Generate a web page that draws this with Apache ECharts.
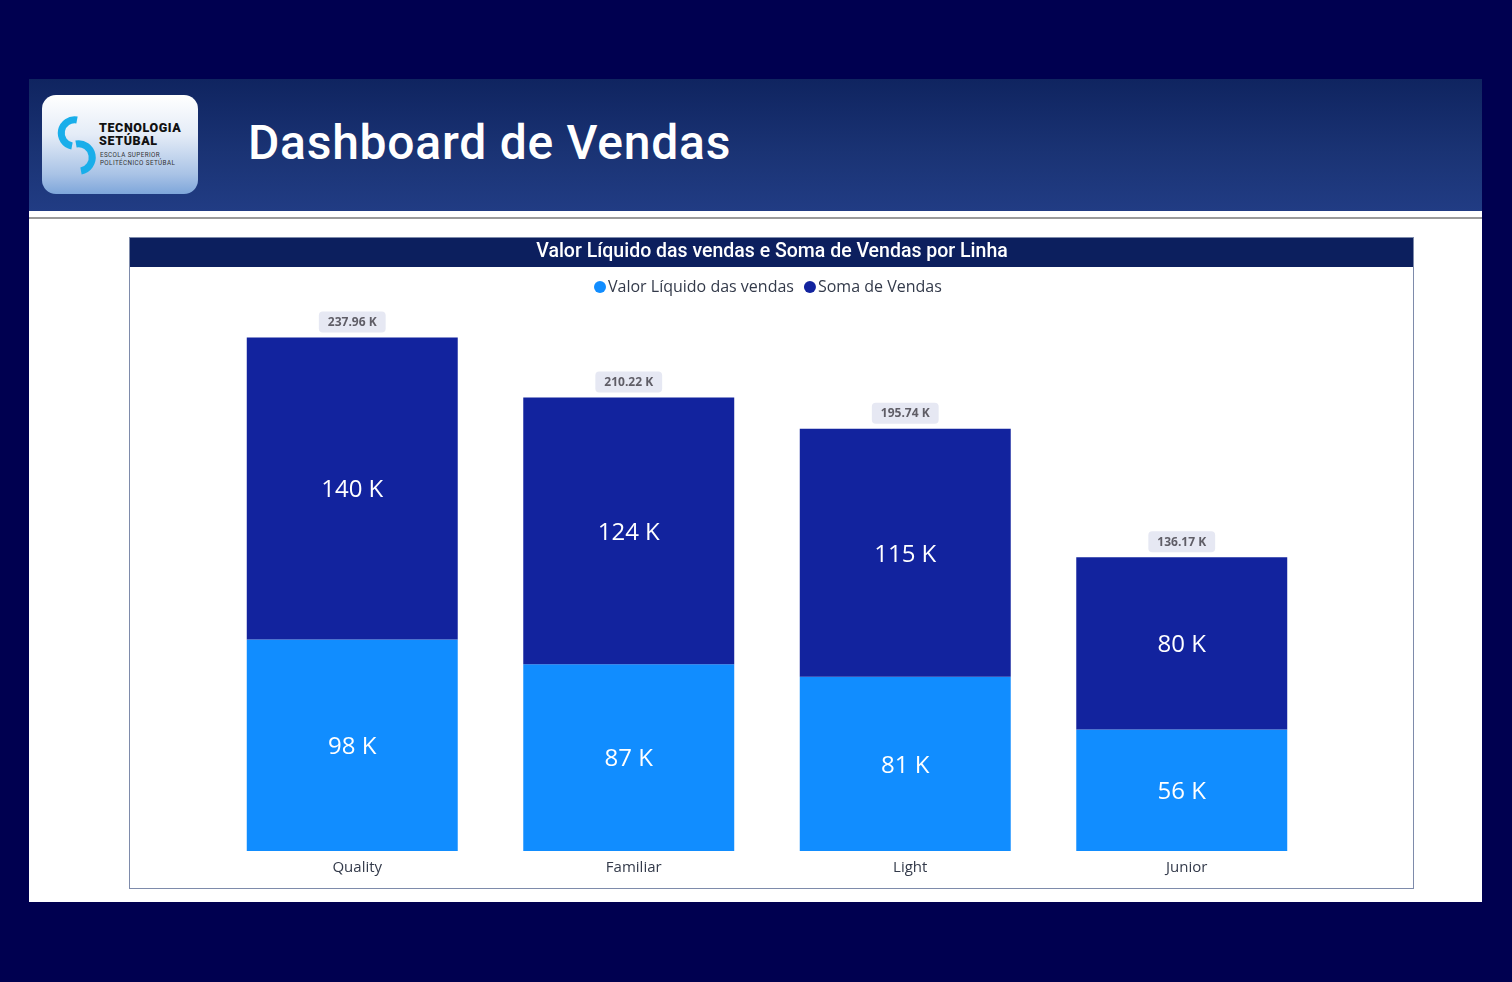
<!DOCTYPE html>
<html>
<head>
<meta charset="utf-8">
<script src="https://cdn.jsdelivr.net/npm/echarts@6/dist/echarts.min.js"></script>
<style>
  html, body { margin:0; padding:0; width:1512px; height:982px; background:#000050; overflow:hidden; }
  #panel { position:absolute; left:29px; top:79px; width:1453px; height:823px; background:#ffffff; }
  #header { position:absolute; left:29px; top:79px; width:1453px; height:132px;
            background:linear-gradient(180deg,#0f2460 0%,#1a3374 55%,#213c84 100%); }
  #hline { position:absolute; left:29px; top:217px; width:1453px; height:2px; background:#9a9a9a; }
  #htitle { position:absolute; left:248px; top:119px; font-family:Roboto, sans-serif; font-weight:500;
            font-size:48px; line-height:48px; color:#ffffff; letter-spacing:0.75px; white-space:nowrap; }
  #logo { position:absolute; left:42px; top:95px; width:156px; height:99px; border-radius:14px;
          background:linear-gradient(180deg,#ffffff 0%,#e4ecf7 40%,#a9c3e6 80%,#7ea6da 100%); }
  #logo svg { position:absolute; left:0; top:0; }
  .lt1 { position:absolute; left:57px; font-family:Roboto, sans-serif; font-weight:900; font-size:12.5px;
         color:#111; letter-spacing:0.6px; line-height:13px; }
  .lt2 { position:absolute; left:58px; font-family:Roboto, sans-serif; font-size:6.3px; color:#333;
         letter-spacing:0.4px; line-height:7px; }
  #box { position:absolute; left:129px; top:237px; width:1283px; height:650px; border:1px solid #7e8bab; }
  #tbar { position:absolute; left:0; top:0; width:100%; height:29px; background:#0c1f5e; }
  #chart { position:absolute; left:0; top:0; width:1512px; height:982px; }
</style>
</head>
<body>
<div id="panel"></div>
<div id="header"></div>
<div id="hline"></div>
<div id="logo">
  <svg width="156" height="99" viewBox="0 0 156 99">
    <path d="M35 25 A13 13 0 0 0 30 51" fill="none" stroke="#19aeea" stroke-width="7"/>
    <path d="M34 49 A13.5 13.5 0 0 1 39 76" fill="none" stroke="#19aeea" stroke-width="7"/>
  </svg>
  <div class="lt1" style="top:26px;">TECNOLOGIA</div>
  <div class="lt1" style="top:39px;">SETÚBAL</div>
  <div class="lt2" style="top:57px;">ESCOLA SUPERIOR</div>
  <div class="lt2" style="top:65px;">POLITÉCNICO SETÚBAL</div>
</div>
<div id="htitle">Dashboard de Vendas</div>
<div id="box"><div id="tbar"></div></div>
<div id="chart"></div>
<script>
const categories = ['Quality', 'Familiar', 'Light', 'Junior'];
const valorLiquido = [98.0, 86.6, 80.7, 56.3];
const somaVendas = [139.96, 123.62, 115.04, 79.87];
const totals = categories.map((c, i) => valorLiquido[i] + somaVendas[i]);
const seriesNames = ['Valor Líquido das vendas', 'Soma de Vendas'];
const chartTitle = 'Valor Líquido das vendas e Soma de Vendas por Linha';

const chart = echarts.init(document.getElementById('chart'), null, { renderer: 'canvas' });
const insideLabel = {
  show: true, position: 'inside', color: '#ffffff', fontSize: 24, offset: [0, 2],
  fontFamily: '"Open Sans", sans-serif',
  formatter: p => Math.round(p.value) + ' K'
};
chart.setOption({
  backgroundColor: 'transparent',
  animation: false,
  title: {
    text: chartTitle, left: 772, top: 252, padding: 0,
    textAlign: 'center', textVerticalAlign: 'middle',
    textStyle: { color: '#ffffff', fontSize: 19.5, fontWeight: 500, fontFamily: 'Roboto, sans-serif' }
  },
  legend: {
    data: seriesNames, left: 594, top: 279, padding: 0, itemGap: 10,
    icon: 'circle', itemWidth: 12, itemHeight: 12,
    textStyle: { color: '#333a4a', fontSize: 16, fontFamily: '"Open Sans", sans-serif', padding: [0, 0, 0, -3] }
  },
  grid: { left: 214, right: 192, top: 290, bottom: 131 },
  xAxis: {
    type: 'category', data: categories,
    axisLine: { show: false }, axisTick: { show: false },
    axisLabel: { color: '#333a4a', fontSize: 15, margin: 9, fontFamily: '"Open Sans", sans-serif', padding: [0, 0, 0, 10] }
  },
  yAxis: { type: 'value', min: 0, max: 260, show: false, splitLine: { show: false } },
  series: [
    { name: seriesNames[0], type: 'bar', stack: 'total', data: valorLiquido,
      barCategoryGap: '23.7%', itemStyle: { color: '#118dff' }, label: insideLabel },
    { name: seriesNames[1], type: 'bar', stack: 'total', data: somaVendas,
      itemStyle: { color: '#12239e' }, label: insideLabel },
    { name: 'Total', type: 'bar', stack: 'total', data: totals.map(() => 0),
      itemStyle: { color: 'transparent' },
      label: {
        show: true, position: 'top', distance: 5,
        formatter: p => totals[p.dataIndex].toFixed(2) + ' K',
        color: '#5f5d66', fontSize: 12, fontWeight: 'bold', fontFamily: '"Open Sans", sans-serif',
        backgroundColor: '#e6e8f3', borderRadius: 4, padding: [5, 9, 4, 9]
      } }
  ]
});
</script>
</body>
</html>
